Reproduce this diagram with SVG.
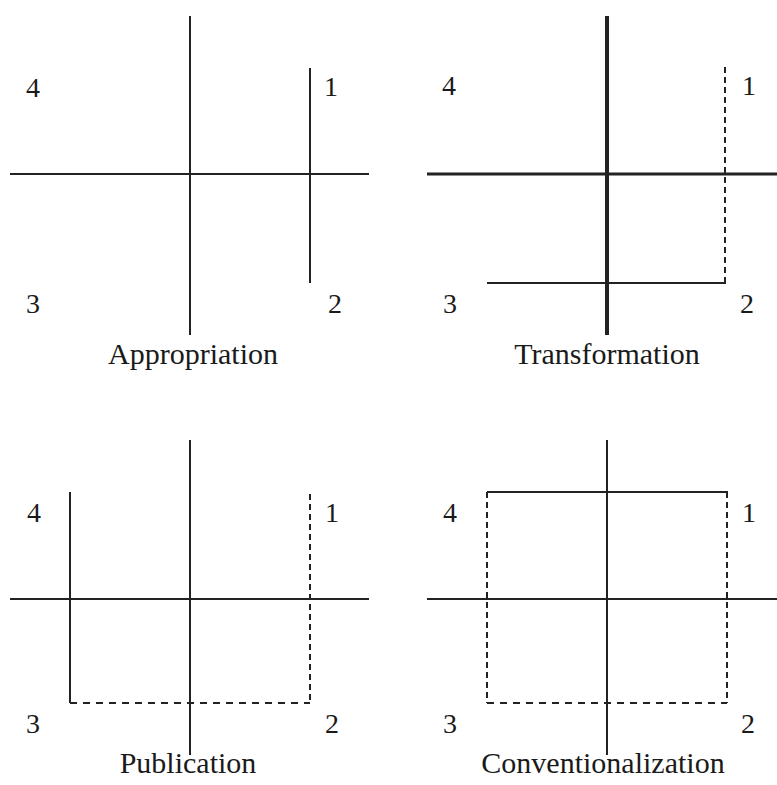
<svg xmlns="http://www.w3.org/2000/svg" width="777" height="785" viewBox="0 0 777 785">
<style>
.ln{stroke:#222;stroke-width:2;fill:none;stroke-linecap:butt}
.thick{stroke-width:4}
.dv{stroke-dasharray:6 4}
.dh{stroke-dasharray:7 6}
.num{font-family:"Liberation Serif","Times New Roman",serif;font-size:28px;fill:#1a1a1a;text-anchor:middle}
.cap{font-family:"Liberation Serif","Times New Roman",serif;font-size:30px;fill:#1a1a1a;text-anchor:middle}
</style>
<rect width="777" height="785" fill="#fff"/>
<g id="appropriation">
  <g id="appropriation-lines">
    <line class="ln" x1="190" y1="16" x2="190" y2="335"/>
    <line class="ln" x1="10" y1="174" x2="369" y2="174"/>
    <line class="ln" x1="310" y1="68" x2="310" y2="283"/>
  </g>
  <text class="num" x="33" y="97">4</text>
  <text class="num" x="331" y="96">1</text>
  <text class="num" x="33" y="313">3</text>
  <text class="num" x="335" y="313">2</text>
  <text class="cap" x="193" y="364">Appropriation</text>
</g>
<g id="transformation">
  <g id="transformation-lines">
    <line class="ln thick" x1="607" y1="16" x2="607" y2="335"/>
    <line class="ln" style="stroke-width:3" x1="427" y1="174" x2="777" y2="174"/>
    <line class="ln dv" x1="725" y1="67" x2="725" y2="283"/>
    <line class="ln" x1="487" y1="283" x2="726" y2="283"/>
  </g>
  <text class="num" x="449" y="95">4</text>
  <text class="num" x="749" y="95">1</text>
  <text class="num" x="450" y="313">3</text>
  <text class="num" x="747" y="313">2</text>
  <text class="cap" x="607" y="364">Transformation</text>
</g>
<g id="publication">
  <g id="publication-lines">
    <line class="ln" x1="190" y1="440" x2="190" y2="755"/>
    <line class="ln" x1="10" y1="599" x2="369" y2="599"/>
    <line class="ln" x1="70" y1="492" x2="70" y2="703"/>
    <line class="ln dv" x1="310" y1="494" x2="310" y2="703"/>
    <line class="ln dh" x1="70" y1="703" x2="310" y2="703"/>
  </g>
  <text class="num" x="34" y="522">4</text>
  <text class="num" x="332" y="522">1</text>
  <text class="num" x="33" y="733">3</text>
  <text class="num" x="332" y="733">2</text>
  <text class="cap" x="188" y="773">Publication</text>
</g>
<g id="conventionalization">
  <g id="conventionalization-lines">
    <line class="ln" x1="607" y1="440" x2="607" y2="755"/>
    <line class="ln" x1="427" y1="599" x2="777" y2="599"/>
    <line class="ln" x1="487" y1="492" x2="728" y2="492"/>
    <line class="ln dv" x1="487" y1="492" x2="487" y2="703"/>
    <line class="ln dv" x1="727" y1="492" x2="727" y2="703"/>
    <line class="ln dh" x1="487" y1="703" x2="727" y2="703"/>
  </g>
  <text class="num" x="450" y="522">4</text>
  <text class="num" x="749" y="522">1</text>
  <text class="num" x="450" y="733">3</text>
  <text class="num" x="748" y="733">2</text>
  <text class="cap" x="603" y="773">Conventionalization</text>
</g>
</svg>
